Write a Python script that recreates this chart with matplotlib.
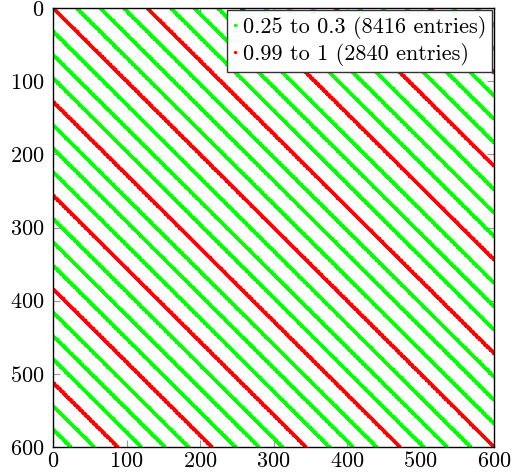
import numpy as np
import matplotlib
matplotlib.use("Agg")
import matplotlib.pyplot as plt

# diagonals (x - y) on the 600x600 grid, per value range
grid = np.arange(600)
green_offsets = [-576, -544, -480, -448, -416, -352, -320, -288, -224, -192, -160,
                 -96, -64, -32, 32, 64, 96, 160, 192, 224, 288, 320, 352,
                 416, 448, 480, 544, 576]
red_offsets = [-512, -384, -256, -128, 0, 128, 256, 384, 512]
labels = ["0.25 to 0.3 (8416 entries)", "0.99 to 1 (2840 entries)"]
colors = ["#00ff00", "#ff0000"]

def points(offsets):
    xs = []
    ys = []
    for d in offsets:
        y = grid - d
        keep = (y >= 0) & (y < 600)
        xs.append(grid[keep])
        ys.append(y[keep])
    return np.concatenate(xs), np.concatenate(ys)

plt.rcParams['font.family'] = ['cmr10', 'DejaVu Serif']
plt.rcParams['mathtext.fontset'] = 'cm'
plt.rcParams['axes.formatter.use_mathtext'] = True

fig = plt.figure(figsize=(5.15, 4.76), dpi=100)
ax = fig.add_axes([53/515, 29/476, 441/515, 439/476])

for offs, lab, c in zip([green_offsets, red_offsets], labels, colors):
    gx, gy = points(offs)
    ax.plot(gx, gy, 'o', ms=2.6, mew=0, color=c, label=lab)

ax.set_xlim(0, 600)
ax.set_ylim(600, 0)
ticks = [0, 100, 200, 300, 400, 500, 600]
ax.set_xticks(ticks)
ax.set_yticks(ticks)
ax.tick_params(direction='in', length=5, width=0.8, color='#999999',
               labelsize=16, top=True, right=True)
ax.tick_params(axis='y', pad=6)
ax.tick_params(axis='x', pad=3)
for s in ax.spines.values():
    s.set_linewidth(1.0)

leg = ax.legend(loc='upper right', fontsize=16, markerscale=0.9,
                handlelength=0.2, handletextpad=0.25, borderpad=0.25,
                labelspacing=0.2, borderaxespad=0.1, fancybox=False,
                framealpha=1, edgecolor='#333333')
leg.get_frame().set_linewidth(1.0)

fig.savefig("out.png", dpi=100)
